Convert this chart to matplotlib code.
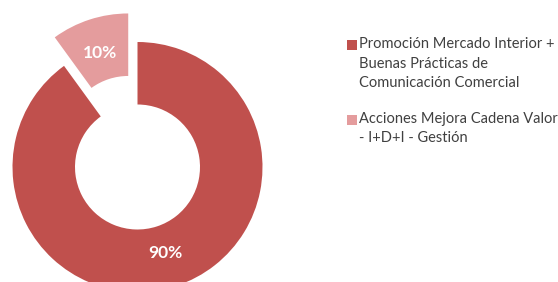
import matplotlib
import matplotlib.pyplot as plt
from matplotlib.patches import Rectangle

matplotlib.use("Agg")

# Datos del gráfico
categorias = [
    "Promoción Mercado Interior +\nBuenas Prácticas de\nComunicación Comercial",
    "Acciones Mejora Cadena Valor\n- I+D+I - Gestión",
]
porcentajes = [90, 10]
colores = ["#C0504D", "#E49C9D"]

W, H = 558, 282
fig = plt.figure(figsize=(W / 100, H / 100), dpi=100)

# Ejes del donut: 1 unidad = 125 px, centro en (137.5, 167) px desde arriba
R_PX = 125
cx, cy = 137.5, H - 167
ax = fig.add_axes([0, 0, 280 / W, 1])
wedges, textos, autotextos = ax.pie(
    porcentajes,
    colors=colores,
    startangle=90,
    counterclock=False,
    explode=[0, 0.24],
    radius=1,
    wedgeprops=dict(width=0.50, linewidth=0),
    autopct="%d%%",
    pctdistance=0.72,
)
for t in autotextos:
    t.set_color("white")
    t.set_fontsize(12.5)
    t.set_fontweight("bold")
    t.set_fontfamily("Lato")
ax.set_aspect("auto")
ax.set_xlim(-cx / R_PX, (280 - cx) / R_PX)
ax.set_ylim(-cy / R_PX, (H - cy) / R_PX)
ax.axis("off")

# Leyenda manual (el cuadro alineado con la primera línea)
tops = [37, 112]
for nombre, color, top in zip(categorias, colores, tops):
    fig.patches.append(Rectangle((347 / W, (H - top - 13) / H), 10 / W, 10 / H,
                                 transform=fig.transFigure, facecolor=color,
                                 edgecolor="none"))
    fig.text(359 / W, (H - top) / H, nombre, ha="left", va="top",
             fontsize=10.5, family="Lato", color="#404040", linespacing=1.5)

fig.savefig("out.png", dpi=100)
